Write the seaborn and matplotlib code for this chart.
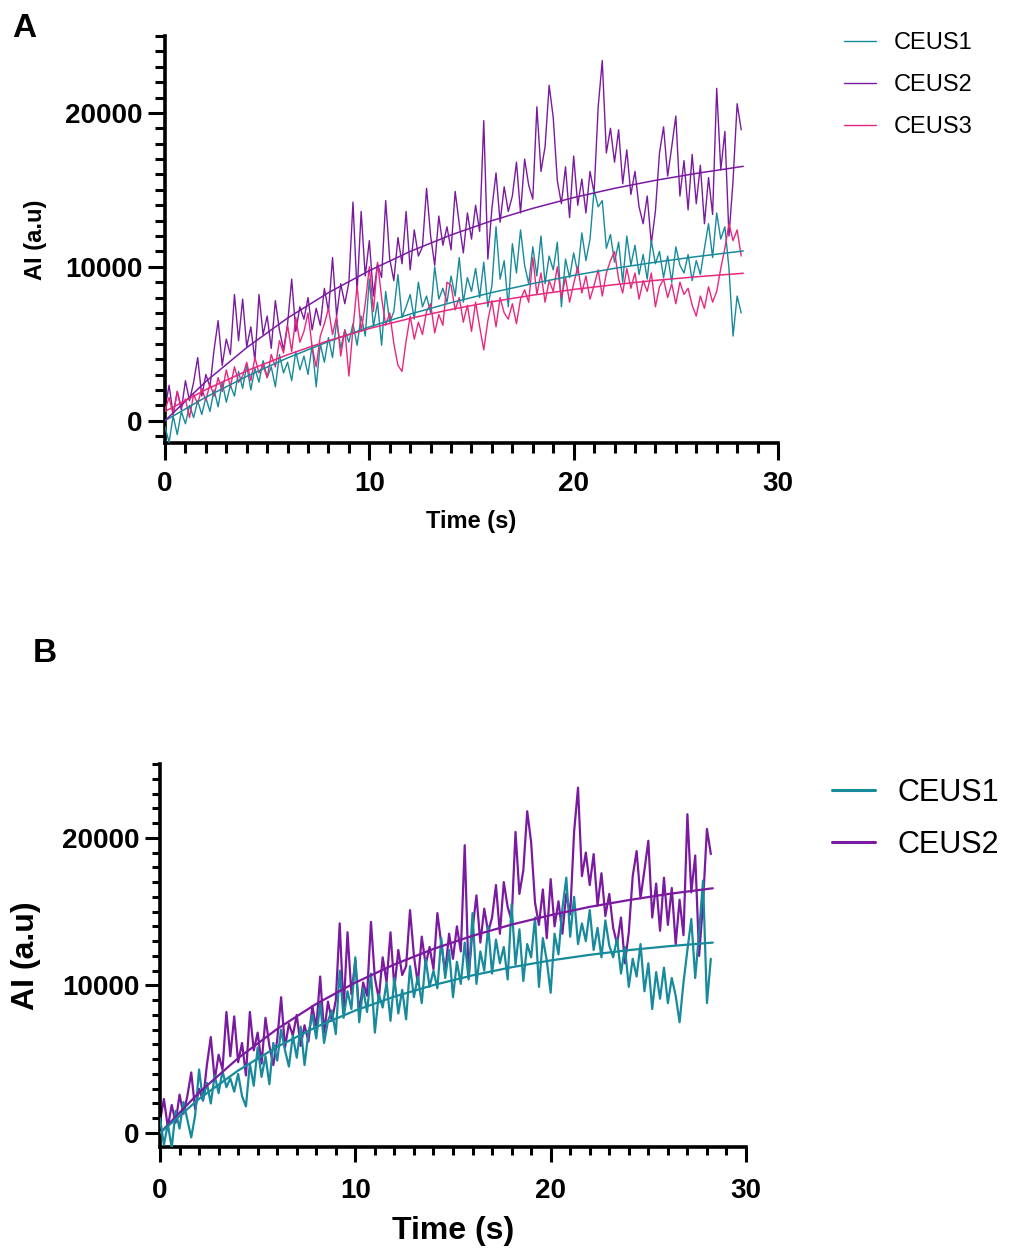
import numpy as np
import pandas as pd
import seaborn as sns
import matplotlib
matplotlib.use("Agg")
import matplotlib.pyplot as plt
from matplotlib.ticker import MultipleLocator

# frame step of the CEUS clips (s)
dt = 0.2

# panel A, CEUS1 (teal)
ceus1_a = [-400, -1400, 300, -900, 600, -200, 1000, 200, 1300, 400,
           1500, 600, 2000, 900, 2500, 1200, 2300, 1600, 3200, 2100,
           3600, 2000, 3400, 2500, 3900, 2800, 3500, 2200, 4300, 3100,
           3800, 2600, 4500, 3300, 4200, 3000, 4900, 2200, 5000, 3800,
           5400, 4100, 6500, 4700, 5900, 5100, 6300, 4900, 6800, 5500,
           9200, 6100, 7700, 4900, 8400, 6400, 7100, 9500, 6700, 7400,
           8200, 6600, 9000, 7400, 8100, 7000, 10000, 7900, 8600, 7700,
           9400, 8100, 10600, 7700, 9300, 8400, 9900, 8000, 10300, 7400,
           8800, 12600, 9200, 10400, 7400, 11500, 9600, 12400, 10100, 8900,
           11300, 9400, 12000, 8900, 10700, 9800, 11600, 7400, 10500, 9300,
           10900, 9600, 12200, 10400, 11800, 15000, 13900, 14300, 11200, 12100,
           10300, 11600, 9000, 12000, 10100, 11400, 9500, 10800, 9200, 11700,
           10200, 11000, 9300, 10700, 9000, 11300, 10100, 9600, 10800, 9100,
           10400, 9500, 11200, 12800, 10600, 13500, 11800, 12600, 9900, 5500,
           8100, 7000]

# CEUS2 (purple), same clip in A and B
ceus2 = [800, 2300, 400, 1900, 700, 2600, 1300, 2500, 4100, 1600,
         3000, 2200, 4600, 6500, 3600, 5300, 4300, 8200, 5200, 7900,
         4800, 6100, 3900, 8200, 5600, 6800, 4700, 7800, 5900, 4600,
         6300, 9200, 5800, 7400, 6600, 8000, 5900, 7300, 6200, 8600,
         7100, 10600, 6800, 8900, 7600, 9000, 14200, 8300, 13600, 9400,
         11700, 8100, 10200, 9300, 14300, 10500, 9100, 11900, 10200, 13600,
         9800, 12400, 10700, 11300, 15100, 12000, 10100, 13300, 11400, 12600,
         11100, 14900, 12800, 10900, 13500, 11800, 14000, 12300, 19500, 10500,
         13800, 16100, 12900, 15200, 13600, 14600, 16800, 13500, 17000, 15300,
         14400, 20400, 16200, 17800, 21800, 19700, 15600, 14100, 16500, 13200,
         17200, 14000, 15700, 13500, 16200, 14800, 20400, 23400, 17400, 19000,
         16800, 18900, 15400, 17600, 14700, 16200, 13900, 12800, 14600, 11500,
         13600, 17400, 19100, 15900, 17800, 19800, 14600, 16900, 13700, 17300,
         14100, 16600, 12800, 15800, 13400, 21600, 16300, 18800, 12000, 15600,
         20600, 18900]

# panel A, CEUS3 (pink)
ceus3_a = [700, 1500, 400, 1900, 900, 1400, 200, 1700, 1100, 2100,
           1300, 2400, 1600, 2800, 1900, 3300, 2200, 3500, 2500, 2900,
           3800, 2600, 4100, 3100, 3600, 2800, 4300, 3500, 5200, 4400,
           6200, 4500, 6700, 5100, 5800, 7000, 4800, 3500, 5500, 6300,
           7300, 5600, 6800, 4200, 5900, 2900, 6000, 8800, 5800, 7600,
           10000, 7100, 10300, 8000, 6200, 7000, 5000, 3600, 3200, 5200,
           6800, 5300, 6400, 5600, 7100, 7600, 5700, 6900, 6200, 9000,
           8800, 7200, 8000, 6400, 7500, 5800, 7700, 6100, 4600, 6500,
           7800, 6100, 8000, 7000, 6600, 7600, 6300, 7900, 8500, 7700,
           10600, 8200, 9600, 7700, 9100, 8400, 10000, 8000, 9300, 7700,
           8900, 10000, 8300, 9400, 7900, 8800, 9800, 8100, 9600, 10400,
           11000, 9200, 8300, 9900, 8600, 9600, 7900, 9100, 8400, 9600,
           7400, 8700, 9200, 8000, 8900, 7600, 9000, 8200, 8600, 7500,
           6800, 8100, 7300, 8700, 7700, 8400, 9900, 11200, 12800, 11700,
           12400, 10700]

# panel B, CEUS1 (teal)
ceus1_b = [1000, -800, 600, -1000, 1500, 300, 2100, 900, -300, 1200,
           4300, 2200, 3400, 2000, 3900, 2700, 4200, 3100, 3700, 2800,
           4000, 2500, 1800, 4700, 3200, 5800, 3800, 5200, 3300, 6100,
           4900, 7000, 5600, 4500, 6600, 5100, 7200, 4600, 6800, 8000,
           6400, 8800, 6100, 7600, 8300, 6700, 11000, 7800, 9600, 8400,
           11900, 7500, 9800, 8200, 10800, 6800, 9400, 8500, 10200, 7600,
           10500, 8100, 9700, 7700, 11300, 9200, 10600, 8800, 11800, 9900,
           11000, 9800, 13200, 10500, 12400, 9200, 11600, 10100, 12900, 10400,
           14900, 10100, 12300, 11000, 14000, 10800, 13100, 11500, 12600, 10400,
           15500, 11400, 13800, 10300, 12800, 11900, 14600, 9900, 13200, 11700,
           9500, 13500, 12100, 15200, 17300, 13300, 16000, 12800, 14200, 13000,
           15100, 12400, 13900, 11900, 14400, 12700, 11900, 13200, 10800, 12600,
           9900, 11800, 10600, 12800, 9600, 11500, 8400, 10900, 9100, 11200,
           8800, 10500, 9300, 7500, 10200, 12400, 14500, 10500, 13600, 17100,
           8800, 11800]

# fitted curves
fit_t = [0, 2, 4, 6, 8, 10, 12, 14, 16, 18, 20, 22, 24, 26, 28.3]
fit1_a = [0, 1530, 2880, 4080, 5140, 6090, 6930, 7670, 8330, 8910, 9440, 9900, 10300, 10660, 11030]
fit2_a = [0, 2550, 4750, 6670, 8320, 9750, 11000, 12070, 13000, 13800, 14500, 15100, 15620, 16070, 16530]
fit3_a = [600, 2020, 3240, 4290, 5200, 5990, 6650, 7230, 7730, 8160, 8530, 8840, 9120, 9350, 9580]
fit1_b = [0, 2310, 4230, 5840, 7180, 8300, 9240, 10020, 10680, 11230, 11690, 12070, 12390, 12650, 12900]
fit2_b = [0, 2740, 5070, 7050, 8750, 10190, 11420, 12470, 13360, 14120, 14760, 15320, 15780, 16190, 16580]

x_ticks = [0, 10, 20, 30]
y_ticks = [0, 10000, 20000]

teal = "#178a9b"
purple = "#7a1aa0"
pink = "#e8287f"

t = np.round(np.arange(len(ceus2)) * dt, 2)

sns.set_style("ticks")
plt.rcParams['font.family'] = ['Liberation Sans', 'DejaVu Sans']
plt.rcParams['text.color'] = 'black'
plt.rcParams['axes.labelcolor'] = 'black'
plt.rcParams['xtick.color'] = 'black'
plt.rcParams['ytick.color'] = 'black'

W, H = 1012, 1251
fig = plt.figure(figsize=(W / 100, H / 100), dpi=100)

axA = fig.add_axes([165 / W, 1 - 443 / H, 613 / W, 407 / H])
axB = fig.add_axes([160 / W, 1 - 1147 / H, 586 / W, 383 / H])


def style_axes(ax, ymin, tsize, lsize, maj, mnr, xpad, ypad):
    ax.set_xlim(0, 30)
    ax.set_ylim(ymin, 25000)
    for s in ['top', 'right']:
        ax.spines[s].set_visible(False)
    for s in ['left', 'bottom']:
        ax.spines[s].set_linewidth(2.6)
        ax.spines[s].set_color('black')
    ax.set_xticks(x_ticks)
    ax.set_xticklabels([str(v) for v in x_ticks], fontweight='bold', fontsize=tsize, color='black')
    ax.set_yticks(y_ticks)
    ax.set_yticklabels([str(v) for v in y_ticks], fontweight='bold', fontsize=tsize, color='black')
    ax.xaxis.set_minor_locator(MultipleLocator(1))
    ax.yaxis.set_minor_locator(MultipleLocator(1000))
    ax.tick_params(which='major', length=maj, width=2.2, color='black')
    ax.tick_params(which='minor', length=mnr, width=2.2, color='black')
    ax.tick_params(axis='x', which='major', pad=xpad)
    ax.tick_params(axis='y', which='major', pad=ypad)
    ax.set_xlabel("Time (s)", fontweight='bold', fontsize=lsize, color='black')
    ax.set_ylabel("AI (a.u)", fontweight='bold', fontsize=lsize, color='black')
    ax.grid(False)


# Panel A
sns.lineplot(x=t, y=ceus1_a, ax=axA, color=teal, lw=1.0, label="CEUS1", zorder=3)
sns.lineplot(x=t, y=ceus2, ax=axA, color=purple, lw=1.0, label="CEUS2", zorder=2)
sns.lineplot(x=t, y=ceus3_a, ax=axA, color=pink, lw=1.0, label="CEUS3", zorder=4)
sns.lineplot(x=fit_t, y=fit1_a, ax=axA, color=teal, lw=1.1, legend=False, zorder=5)
sns.lineplot(x=fit_t, y=fit2_a, ax=axA, color=purple, lw=1.1, legend=False, zorder=5)
sns.lineplot(x=fit_t, y=fit3_a, ax=axA, color=pink, lw=1.1, legend=False, zorder=5)
style_axes(axA, -1450, 20, 17, 12, 7, 8, 4)
axA.xaxis.set_label_coords(0.5, -0.165)
axA.yaxis.set_label_coords(-0.193, 0.5)

hA, lA = axA.get_legend_handles_labels()
axA.legend(hA[:3], lA[:3], loc='upper left', bbox_to_anchor=(844 / W, 1 - 32 / H),
           bbox_transform=fig.transFigure, frameon=False, fontsize=17,
           handlelength=1.35, handletextpad=0.75, labelspacing=0.85,
           borderpad=0, borderaxespad=0)

# Panel B
sns.lineplot(x=t, y=ceus2, ax=axB, color=purple, lw=1.6, label="CEUS2", zorder=2)
sns.lineplot(x=t, y=ceus1_b, ax=axB, color=teal, lw=1.6, label="CEUS1", zorder=3)
sns.lineplot(x=fit_t, y=fit2_b, ax=axB, color=purple, lw=1.6, legend=False, zorder=5)
sns.lineplot(x=fit_t, y=fit1_b, ax=axB, color=teal, lw=1.6, legend=False, zorder=5)
style_axes(axB, -950, 20, 23, 11, 6, 11, 4)
axB.xaxis.set_label_coords(0.5, -0.18)
axB.yaxis.set_label_coords(-0.203, 0.5)

hB, lB = axB.get_legend_handles_labels()
axB.legend([hB[1], hB[0]], [lB[1], lB[0]], loc='upper left', bbox_to_anchor=(832 / W, 1 - 778 / H),
           bbox_transform=fig.transFigure, frameon=False, fontsize=22,
           handlelength=1.4, handletextpad=0.75, labelspacing=0.72,
           borderpad=0, borderaxespad=0)
for line in axB.get_legend().get_lines():
    line.set_linewidth(2.2)

fig.text(12 / W, 1 - 37 / H, "A", fontsize=24, fontweight='bold', ha='left', va='baseline')
fig.text(33 / W, 1 - 662 / H, "B", fontsize=24, fontweight='bold', ha='left', va='baseline')

fig.savefig("out.png", dpi=100)
